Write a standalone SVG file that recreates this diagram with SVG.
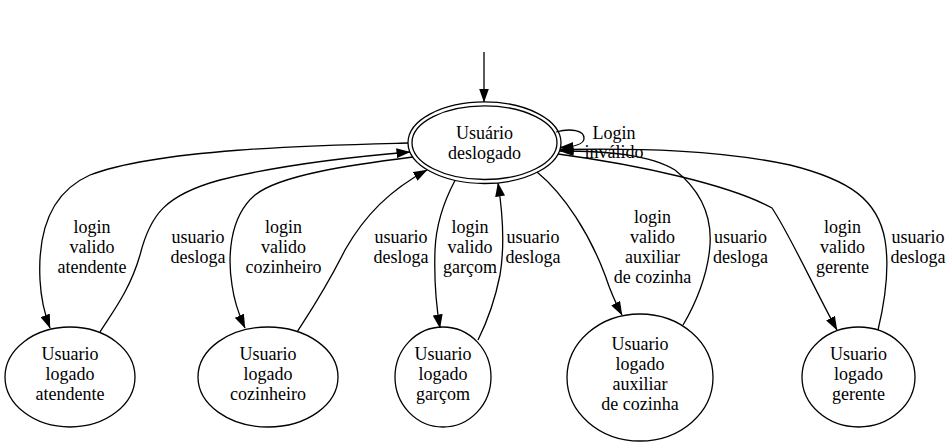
<svg xmlns="http://www.w3.org/2000/svg" width="952" height="447" viewBox="0 0 952 447">
<style>
text{font-family:"Liberation Serif","Times New Roman",serif;font-size:18px;fill:#000;text-anchor:middle}
.n{fill:none;stroke:#000;stroke-width:1.3}
.e{fill:none;stroke:#000;stroke-width:1.3;marker-end:url(#ah)}
.e0{fill:none;stroke:#000;stroke-width:1.3}
</style>
<defs>
<marker id="ah" markerUnits="userSpaceOnUse" markerWidth="14" markerHeight="10" refX="13.5" refY="5" orient="auto">
<path d="M0,0 L14,5 L0,10 z" fill="#000"/>
</marker>
</defs>
<g id="edges">
<path class="e" d="M484,52 L484,102"/>
<path class="e" d="M556,132 C570,128 585,130 584,139 C583,145 572,147 560,147.5"/>
<path class="e" d="M408,143 C330,145 160,148 90,175 C45,195 38,240 40,280 C41,300 45,315 50,328"/>
<path class="e" d="M100,332 C112,313 130,290 140,255 C150,215 165,195 220,180 C280,165 350,157 410,152"/>
<path class="e" d="M413,157 C350,165 280,175 255,195 C228,218 228,260 232,285 C234,300 239,315 245,328"/>
<path class="e" d="M297,332 C310,312 325,290 345,250 C365,215 390,190 427,170"/>
<path class="e" d="M455,180.5 C443,203 436,225 435,250 C434,280 436,305 440,328"/>
<path class="e" d="M478,340 C488,320 495,300 500,275 C505,245 503,215 498,183"/>
<path class="e" d="M537,172 C565,195 590,235 605,275 C610,290 615,302 622,315"/>
<path class="e" d="M683,325 C695,305 708,275 710,245 C712,215 700,190 675,170 C650,155 610,151 560,151"/>
<path class="e" d="M558,154 C640,165 730,185 772,208 C790,235 815,290 837,330"/>
<path class="e" d="M878,330 C884,305 890,270 885,240 C878,200 850,180 790,165 C720,150 640,148 560,149.5"/>
</g>
<g id="deslogado">
<ellipse class="n" cx="484.5" cy="142.7" rx="76.5" ry="40.8"/>
<ellipse class="n" cx="484.5" cy="142.7" rx="72.5" ry="36.8"/>
<text x="484.5" y="139">Usuário</text>
<text x="484.5" y="159">deslogado</text>
</g>
<g id="atendente">
<ellipse class="n" cx="70" cy="377" rx="65" ry="50"/>
<text x="70" y="360">Usuario</text>
<text x="70" y="380">logado</text>
<text x="70" y="400">atendente</text>
</g>
<g id="cozinheiro">
<ellipse class="n" cx="268" cy="377" rx="70" ry="50"/>
<text x="268" y="360">Usuario</text>
<text x="268" y="380">logado</text>
<text x="268" y="400">cozinheiro</text>
</g>
<g id="garcom">
<ellipse class="n" cx="443" cy="377" rx="48" ry="50"/>
<text x="443" y="360">Usuario</text>
<text x="443" y="380">logado</text>
<text x="443" y="400">garçom</text>
</g>
<g id="auxiliar">
<ellipse class="n" cx="640" cy="377.5" rx="73" ry="63.5"/>
<text x="640" y="350">Usuario</text>
<text x="640" y="370">logado</text>
<text x="640" y="390">auxiliar</text>
<text x="640" y="410">de cozinha</text>
</g>
<g id="gerente">
<ellipse class="n" cx="858.5" cy="377" rx="56.5" ry="50"/>
<text x="858.5" y="360">Usuario</text>
<text x="858.5" y="380">logado</text>
<text x="858.5" y="400">gerente</text>
</g>
<g id="labels">
<text x="614" y="139">Login</text>
<text x="614" y="158">inválido</text>
<text x="92" y="233">login</text>
<text x="92" y="253">valido</text>
<text x="92" y="273">atendente</text>
<text x="198" y="243">usuario</text>
<text x="198" y="263">desloga</text>
<text x="283.5" y="233">login</text>
<text x="283.5" y="253">valido</text>
<text x="283.5" y="273">cozinheiro</text>
<text x="401" y="243">usuario</text>
<text x="401" y="263">desloga</text>
<text x="470" y="233">login</text>
<text x="470" y="253">valido</text>
<text x="470" y="273">garçom</text>
<text x="533" y="243">usuario</text>
<text x="533" y="263">desloga</text>
<text x="652.5" y="223">login</text>
<text x="652.5" y="243">valido</text>
<text x="652.5" y="263">auxiliar</text>
<text x="652.5" y="283">de cozinha</text>
<text x="740.5" y="243">usuario</text>
<text x="740.5" y="263">desloga</text>
<text x="842.5" y="233">login</text>
<text x="842.5" y="253">valido</text>
<text x="842.5" y="273">gerente</text>
<text x="918" y="243">usuario</text>
<text x="918" y="263">desloga</text>
</g>
</svg>
